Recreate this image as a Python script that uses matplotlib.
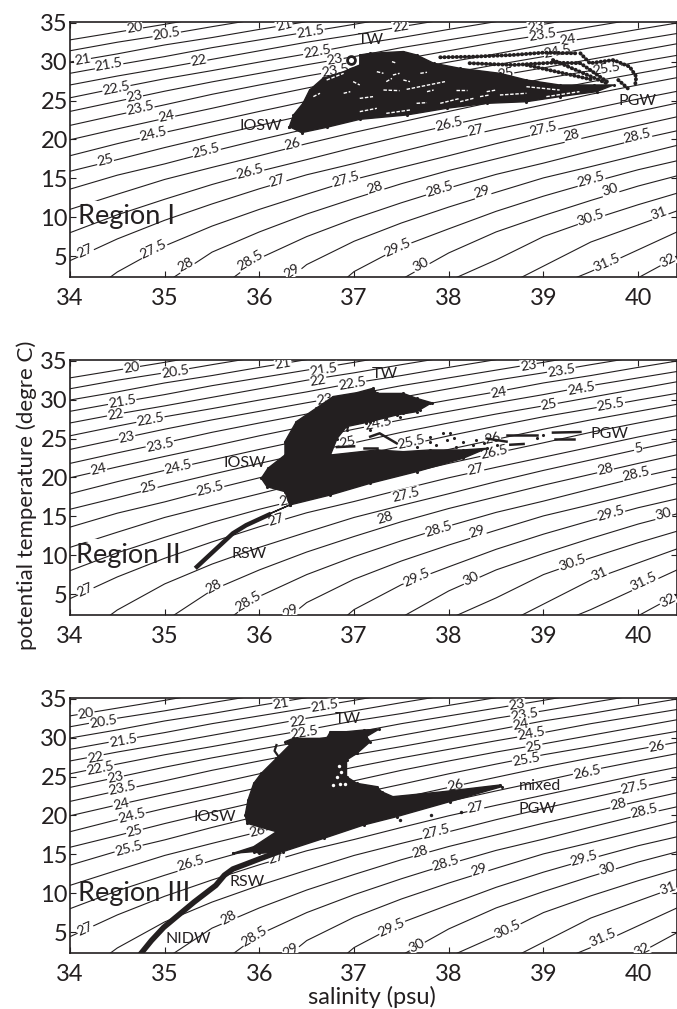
import numpy as np
import matplotlib
matplotlib.use("Agg")
import matplotlib.pyplot as plt

plt.rcParams['font.family'] = ['Lato', 'DejaVu Sans']

INK = '#231f20'
nan = float('nan')

# ISOPYCNALS (theta read at each salinity, same for all 3 panels)
sal_grid = [34, 34.5, 35, 35.5, 36, 36.5, 37, 37.5, 38, 38.5, 39, 39.5, 40, 40.5]
levels = [20, 20.5, 21, 21.5, 22, 22.5, 23, 23.5, 24, 24.5, 25, 25.5, 26, 26.5,
          27, 27.5, 28, 28.5, 29, 29.5, 30, 30.5, 31, 31.5, 32]
theta_200 = [32.8, 33.8, 34.8, 35.85, nan, nan, nan, nan, nan, nan, nan, nan, nan, nan]
theta_205 = [31.4, 32.5, 33.45, 34.5, 35.5, nan, nan, nan, nan, nan, nan, nan, nan, nan]
theta_210 = [29.95, 31.0, 32.15, 33.1, 34.15, 35.15, nan, nan, nan, nan, nan, nan, nan, nan]
theta_215 = [28.5, 29.6, 30.65, 31.8, 32.8, 33.8, 34.8, 35.85, nan, nan, nan, nan, nan, nan]
theta_220 = [27.0, 28.15, 29.2, 30.3, 31.4, 32.5, 33.45, 34.5, 35.5, nan, nan, nan, nan, nan]
theta_225 = [25.35, 26.6, 27.8, 28.85, 29.95, 31.0, 32.15, 33.1, 34.15, 35.15, nan, nan, nan, nan]
theta_230 = [23.6, 24.9, 26.2, 27.4, 28.5, 29.6, 30.65, 31.8, 32.8, 33.8, 34.8, 35.85, nan, nan]
theta_235 = [21.8, 23.15, 24.45, 25.8, 27.0, 28.15, 29.2, 30.3, 31.4, 32.5, 33.45, 34.5, 35.5, nan]
theta_240 = [19.95, 21.35, 22.7, 24.0, 25.35, 26.6, 27.8, 28.85, 29.95, 31.0, 32.15, 33.1, 34.15, 35.15]
theta_245 = [17.9, 19.45, 20.9, 22.25, 23.6, 24.9, 26.2, 27.4, 28.5, 29.6, 30.65, 31.8, 32.8, 33.8]
theta_250 = [15.9, 17.4, 18.95, 20.4, 21.8, 23.15, 24.45, 25.8, 27.0, 28.15, 29.2, 30.3, 31.4, 32.5]
theta_255 = [13.6, 15.4, 16.85, 18.45, 19.95, 21.35, 22.7, 24.0, 25.35, 26.6, 27.8, 28.85, 29.95, 31.0]
theta_260 = [11.0, 12.95, 14.85, 16.4, 17.9, 19.45, 20.9, 22.25, 23.6, 24.9, 26.2, 27.4, 28.5, 29.6]
theta_265 = [8.0, 10.3, 12.3, 14.2, 15.9, 17.4, 18.95, 20.4, 21.8, 23.15, 24.45, 25.8, 27.0, 28.15]
theta_270 = [4.4, 7.2, 9.6, 11.7, 13.65, 15.45, 16.9, 18.45, 19.95, 21.3, 22.6, 23.9, 25.2, 26.4]
theta_275 = [-1.5, 2.95, 6.3, 8.85, 11.0, 12.95, 14.85, 16.4, 17.9, 19.45, 20.9, 22.25, 23.6, 24.9]
theta_280 = [nan, -1.0, 1.5, 5.5, 8.1, 10.4, 12.4, 14.3, 16.0, 17.5, 19.0, 20.4, 21.8, 23.15]
theta_285 = [nan, nan, -1.5, 0.2, 4.7, 7.5, 9.8, 11.85, 13.75, 15.5, 16.95, 18.5, 20.0, 21.35]
theta_290 = [nan, nan, nan, -3.0, -1.0, 3.9, 6.9, 9.25, 11.3, 13.2, 15.05, 16.5, 18.0, 19.5]
theta_295 = [nan, nan, nan, nan, -4.0, -2.2, 3.0, 6.2, 8.5, 10.75, 12.7, 14.45, 16.1, 17.5]
theta_300 = [nan, nan, nan, nan, nan, -4.0, -1.0, 2.0, 5.4, 8.1, 10.2, 12.15, 14.0, 15.6]
theta_305 = [nan, nan, nan, nan, nan, nan, -4.0, -2.0, 1.8, 4.5, 7.5, 9.65, 11.6, 13.4]
theta_310 = [nan, nan, nan, nan, nan, nan, nan, -4.0, -2.0, 0.6, 3.7, 6.8, 9.0, 11.2]
theta_315 = [nan, nan, nan, nan, nan, nan, nan, nan, -4.0, -2.0, 0.5, 3.0, 5.8, 8.6]
theta_320 = [nan, nan, nan, nan, nan, nan, nan, nan, nan, -4.0, -2.0, -0.5, 2.2, 5.5]
all_theta = [theta_200, theta_205, theta_210, theta_215, theta_220, theta_225, theta_230,
             theta_235, theta_240, theta_245, theta_250, theta_255, theta_260, theta_265,
             theta_270, theta_275, theta_280, theta_285, theta_290, theta_295, theta_300,
             theta_305, theta_310, theta_315, theta_320]

# REGION I - cloud outline and the loose tracks on its right
blob1_s = [36.316, 36.446, 36.71, 37.06, 37.555, 37.977, 38.4, 38.82, 39.17, 39.56, 39.74, 39.53,
           39.17, 38.82, 38.54, 38.12, 37.84, 37.66, 37.52, 37.17, 37.06, 37.06, 36.89, 36.67,
           36.53, 36.46, 36.36, 36.316]
blob1_t = [21.64, 20.87, 21.55, 22.58, 23.14, 24.0, 24.64, 24.85, 25.5, 26.14, 27.0, 27.0,
           27.0, 27.64, 28.5, 29.14, 29.8, 30.86, 31.3, 31.07, 30.86, 29.57, 28.71, 27.85,
           26.35, 24.64, 23.14, 21.64]
track1a_s = [37.91, 38.26, 38.68, 39.0, 39.35]
track1a_t = [30.56, 30.64, 30.86, 31.16, 31.07]
track1b_s = [38.22, 38.68, 39.1, 39.39, 39.67]
track1b_t = [29.8, 29.57, 29.87, 29.8, 27.43]
track1c_s = [38.82, 39.53]
track1c_t = [29.57, 27.64]
track1d_s = [39.1, 39.67]
track1d_t = [30.21, 27.2]
track1e_s = [39.39, 39.49, 39.74, 39.91, 39.98, 39.97]
track1e_t = [31.07, 29.8, 30.21, 29.35, 28.07, 27.2]
track1f_s = [39.79, 39.91]
track1f_t = [27.64, 26.35]
ring1_s = [36.97]
ring1_t = [30.21]
# white gaps inside the cloud, start and end of each
gap1_s0 = [37.555, 37.77, 37.31, 36.99, 37.4, 37.24, 37.41, 37.7, 36.57, 36.71, 37.91, 38.12, 38.4,
           38.54, 39.03, 37.06, 37.34, 37.06, 37.66, 36.89, 38.08, 38.33, 38.82, 37.52, 37.34]
gap1_t0 = [26.44, 26.14, 26.35, 27.43, 30.0, 28.71, 28.28, 28.5, 25.5, 27.64, 24.64, 24.85, 26.14,
           25.71, 25.5, 23.57, 23.35, 25.28, 24.64, 25.93, 26.35, 25.5, 26.78, 27.64, 27.43]
gap1_s1 = [37.96, 37.84, 37.48, 37.06, 37.45, 37.31, 37.48, 37.77, 36.64, 36.89, 38.12, 38.26, 38.5,
           38.82, 39.38, 37.24, 37.59, 37.2, 37.77, 36.96, 38.19, 38.43, 39.17, 37.59, 37.4]
gap1_t1 = [27.43, 26.35, 26.27, 27.0, 29.8, 28.5, 28.5, 28.63, 25.93, 28.5, 25.28, 25.28, 26.35,
           25.93, 26.14, 24.0, 23.78, 25.5, 24.73, 26.14, 26.35, 25.71, 26.35, 27.43, 27.85]

# REGION II
blob2_s = [36.08, 36.32, 36.75, 37.17, 37.66, 38.15, 38.4, 38.15, 37.8, 37.52, 37.24, 36.75, 36.82,
           36.92, 37.17, 37.45, 37.66, 37.82, 37.66, 37.52, 37.24, 37.2, 37.03, 36.78, 36.6, 36.39,
           36.27, 36.27, 36.09, 36.02, 36.08, 36.27, 36.32]
blob2_t = [15.17, 16.45, 17.74, 19.24, 20.74, 22.45, 23.74, 23.53, 23.53, 23.31, 23.53, 22.88, 25.0,
           26.53, 27.17, 28.03, 28.46, 29.6, 30.17, 30.8, 30.8, 31.46, 30.9, 30.4, 28.9, 27.17,
           24.6, 22.88, 21.17, 19.88, 18.8, 18.17, 16.45]
tail2_s = [35.34, 35.72, 35.86, 36.1]
tail2_t = [8.5, 12.8, 13.85, 15.2]
dots2_s = [37.13, 37.2, 37.34, 37.49, 37.52, 37.63, 37.7, 37.8, 37.59, 37.45, 37.17, 36.92, 37.8, 37.94,
           38.01, 37.98, 38.05, 38.15, 38.29, 37.8, 37.66, 37.87, 38.08, 38.26, 38.37, 38.51, 38.93, 39.0]
dots2_t = [26.96, 27.39, 27.6, 27.81, 28.24, 28.67, 28.67, 29.53, 29.1, 28.24, 26.1, 26.1, 25.24, 25.67,
           25.76, 24.81, 25.03, 24.6, 24.81, 24.6, 23.96, 24.17, 23.96, 24.17, 24.38, 24.17, 25.03, 25.46]
track2a_s = [39.1, 39.39]
track2a_t = [25.76, 25.84]
track2b_s = [39.12, 39.32]
track2b_t = [25.0, 25.0]
track2c_s = [38.61, 38.93]
track2c_t = [25.45, 25.45]
track2d_s = [38.65, 38.79]
track2d_t = [24.2, 24.3]
track2e_s = [38.4, 38.61]
track2e_t = [25.0, 24.6]
track2f_s = [37.17, 37.27, 37.45]
track2f_t = [25.24, 25.67, 24.38]
track2g_s = [37.1, 37.24]
track2g_t = [23.74, 23.74]
track2h_s = [36.82, 37.0]
track2h_t = [23.9, 24.0]

# REGION III
blob3_s = [35.72, 35.94, 36.18, 35.87, 35.85, 35.88, 35.94, 36.02, 36.18, 36.32, 36.27, 36.36, 36.71,
           36.75, 36.92, 37.1, 37.26, 37.13, 37.17, 37.03, 36.92, 36.92, 37.03, 37.24, 37.29, 37.41,
           37.94, 38.54, 38.56, 38.01, 37.45, 37.1, 36.68, 36.25, 36.0, 35.94, 35.72]
blob3_t = [15.12, 15.98, 17.9, 18.98, 20.05, 21.98, 24.12, 25.41, 27.34, 29.05, 29.48, 29.91, 29.91,
           30.77, 30.77, 30.98, 31.07, 30.13, 29.48, 27.98, 27.12, 24.98, 24.12, 23.7, 23.05, 22.41,
           23.05, 23.91, 23.7, 21.77, 19.84, 18.76, 17.05, 15.34, 15.12, 15.34, 15.12]
tail3_s = [34.74, 34.86, 34.99, 35.31, 35.54, 35.63, 35.72, 35.85, 36.0, 36.2]
tail3_t = [2.1, 3.9, 5.6, 8.85, 11.0, 12.3, 13.1, 13.7, 14.4, 15.3]
hook3_s = [36.18, 36.16, 36.2]
hook3_t = [29.05, 28.3, 27.6]
dots3_s = [37.48, 37.81, 38.13]
dots3_t = [19.4, 20.0, 20.4]
holes3_s = [36.78, 36.9, 36.85, 36.84, 36.86, 36.82]
holes3_t = [23.9, 24.1, 24.0, 26.3, 25.6, 25.0]

# CONTOUR LABELS (text, salinity, theta)
labels_1 = [('20', 34.68, 34.3), ('20.5', 35.02, 33.6), ('21', 36.26, 34.7), ('21.5', 36.54, 33.8),
            ('22', 37.49, 34.5), ('23', 38.92, 34.5), ('23.5', 38.99, 33.4), ('24', 39.26, 32.8),
            ('21', 34.13, 30.3), ('21.5', 34.41, 29.6), ('22', 35.36, 30.1), ('22.5', 36.61, 31.3),
            ('23', 36.8, 30.2), ('23.5', 36.8, 28.9), ('24.5', 39.15, 31.3), ('25', 38.6, 28.5),
            ('25.5', 39.67, 29.1), ('22.5', 34.49, 26.6), ('23', 34.68, 25.5), ('23.5', 34.74, 24.0),
            ('24', 35.02, 22.9), ('24.5', 34.88, 20.7), ('25', 34.37, 17.3), ('25.5', 35.44, 18.5),
            ('26', 36.35, 19.4), ('26.5', 38.0, 22.0), ('27', 38.28, 21.2), ('27.5', 39.0, 21.3),
            ('28', 39.3, 20.5), ('28.5', 39.99, 20.5), ('26.5', 35.9, 15.8), ('27', 36.19, 14.7),
            ('27.5', 36.91, 14.8), ('28', 37.22, 13.8), ('28.5', 37.9, 13.6), ('29', 38.35, 13.2),
            ('29.5', 39.5, 14.8), ('30', 39.7, 13.5), ('30.5', 39.5, 9.9), ('31', 40.22, 10.5),
            ('27', 34.16, 5.6), ('27.5', 34.88, 5.9), ('28', 35.22, 3.9), ('28.5', 35.9, 4.4),
            ('29', 36.35, 3.1), ('29.5', 37.46, 6.1), ('30', 37.7, 3.9), ('31.5', 39.67, 4.1),
            ('32', 40.31, 4.4)]
labels_2 = [('20', 34.65, 34.1), ('20.5', 35.11, 33.6), ('21', 36.25, 34.6), ('21.5', 36.68, 33.9),
            ('22', 36.62, 32.5), ('22.5', 36.98, 32.0), ('23', 38.84, 34.4), ('23.5', 39.19, 33.7),
            ('24', 38.53, 30.9), ('24.5', 39.4, 31.4), ('23', 36.69, 30.0), ('25', 39.06, 29.4),
            ('25.5', 39.71, 29.4), ('21.5', 34.55, 29.8), ('22', 34.48, 28.1), ('22.5', 34.85, 27.4),
            ('23', 34.6, 25.2), ('23.5', 34.95, 24.2), ('24', 34.3, 21.0), ('24.5', 35.14, 21.4),
            ('25', 34.83, 18.8), ('25.5', 35.48, 18.5), ('26', 36.29, 17.1), ('24.5', 37.25, 27.0),
            ('25', 36.93, 24.5), ('25.5', 37.6, 24.5), ('26', 38.46, 25.0), ('26.5', 38.48, 23.2),
            ('5', 40.0, 23.8), ('27', 36.18, 14.5), ('27', 38.28, 21.0), ('28', 39.65, 21.1),
            ('28.5', 39.98, 20.4), ('27.5', 37.55, 17.8), ('28', 37.33, 14.8), ('28.5', 37.89, 13.4),
            ('29', 38.3, 13.0), ('29.5', 39.71, 15.4), ('30', 40.26, 15.3), ('30.5', 39.3, 9.0),
            ('31', 39.59, 7.6), ('31.5', 40.06, 6.6), ('32', 40.31, 4.2), ('27', 34.16, 5.5),
            ('28', 35.52, 6.0), ('28.5', 35.88, 4.1), ('29', 36.33, 2.8), ('29.5', 37.66, 7.1),
            ('30', 38.23, 7.0)]
labels_3 = [('20', 34.17, 33.1), ('20.5', 34.35, 32.1), ('21', 36.23, 34.4), ('21.5', 36.69, 34.1),
            ('22', 36.4, 32.1), ('22.5', 36.48, 30.6), ('21.5', 34.56, 29.6), ('22', 34.27, 27.4),
            ('22.5', 34.32, 26.1), ('23', 34.48, 24.9), ('23.5', 34.55, 23.5), ('24', 34.54, 21.4),
            ('24.5', 34.65, 20.0), ('25', 34.68, 18.0), ('25.5', 34.62, 15.7), ('26.5', 35.27, 13.8),
            ('23', 38.72, 34.2), ('23.5', 38.8, 33.0), ('24', 38.76, 31.7), ('24.5', 38.87, 30.5),
            ('25', 38.9, 28.9), ('25.5', 38.82, 27.2), ('26', 40.2, 28.8), ('26.5', 39.46, 25.6),
            ('26', 38.07, 23.8), ('27', 38.28, 21.0), ('27.5', 39.96, 23.7), ('28', 39.79, 21.4),
            ('28.5', 40.06, 20.6), ('27.5', 37.86, 17.9), ('28', 37.7, 15.3), ('28.5', 37.97, 13.8),
            ('29', 38.32, 13.0), ('29.5', 39.43, 14.5), ('30', 39.67, 13.1), ('31', 40.31, 10.6),
            ('30.5', 38.62, 5.3), ('31.5', 39.62, 4.3), ('32', 40.04, 2.7), ('29.5', 37.4, 5.6),
            ('30', 37.66, 3.3), ('29', 36.33, 2.7), ('28.5', 35.95, 4.4), ('28', 35.67, 6.8),
            ('27', 34.16, 5.4), ('26', 35.98, 18.0), ('27', 36.18, 14.6)]

# WATER MASS NAMES
names_1 = [('TW', 37.18, 32.8), ('IOSW', 36.02, 21.75), ('PGW', 39.99, 24.9)]
names_2 = [('TW', 37.32, 33.3), ('IOSW', 35.85, 21.8), ('PGW', 39.7, 25.6), ('RSW', 35.89, 10.1)]
names_3 = [('TW', 36.93, 32.4), ('IOSW', 35.53, 19.8), ('mixed', 38.96, 23.8), ('PGW', 38.94, 20.8),
           ('RSW', 35.87, 11.4), ('NIDW', 35.25, 4.1)]
x_ticks = [34, 35, 36, 37, 38, 39, 40]
y_ticks = [5, 10, 15, 20, 25, 30, 35]

XLIM = (34, 40.41)
YLIM = (2.3, 35.1)
PX_S = 607 / (XLIM[1] - XLIM[0])
PX_T = 255 / (YLIM[1] - YLIM[0])


def label_angle(text, s):
    # rotate the label along its own isopycnal
    try:
        row = all_theta[levels.index(float(text))]
    except ValueError:
        return 12
    slope = np.gradient(row, sal_grid)
    k = np.nanargmin(np.abs(np.array(sal_grid) - s))
    g = slope[k]
    if np.isnan(g):
        g = 3
    return np.degrees(np.arctan2(g * PX_T, PX_S))


def setup_panel(top_px, bottom_px, labels, names, region, region_s, region_t, gap=True):
    ax = fig.add_axes([70 / W, 1 - bottom_px / H, 607 / W, (bottom_px - top_px) / H])
    for row in all_theta:
        ax.plot(sal_grid, row, color=INK, lw=0.8, zorder=2)
    if gap:
        # erased stretch of the 26 line left of the region name
        ax.plot([34.17, 34.36], [12.0, 11.7], color='white', lw=3, zorder=2.5)
    for text, s, t in labels:
        ax.text(s, t, text, fontsize=10.2, color=INK, ha='center', va='center', rotation_mode='anchor',
                rotation=label_angle(text, s), zorder=3, clip_on=True,
                bbox=dict(fc='white', ec='none', pad=0.3))
    for text, s, t in names:
        ax.text(s, t, text, fontsize=11.5, color=INK, ha='center', va='center', zorder=6)
    ax.text(region_s, region_t, region, fontsize=19.5, color=INK, ha='center', va='center', zorder=6)
    ax.set_xlim(*XLIM)
    ax.set_ylim(*YLIM)
    ax.set_xticks(x_ticks)
    ax.set_yticks(y_ticks)
    ax.tick_params(direction='in', length=4, width=0.8, top=True, right=True, labelsize=17, colors=INK)
    ax.tick_params(axis='x', pad=8)
    ax.tick_params(axis='y', pad=1.5)
    for sp in ax.spines.values():
        sp.set_linewidth(1.2)
        sp.set_color(INK)
    return ax


def draw_cloud(ax, s, t):
    # filled body plus dots on its edge so the outline stays rough
    ax.fill(s, t, color=INK, zorder=4, lw=1)
    ax.scatter(s, t, s=5, color=INK, lw=0, zorder=4)


W, H = 677, 1009
fig = plt.figure(figsize=(W / 100, H / 100), dpi=100)

ax1 = setup_panel(22, 277, labels_1, names_1, 'Region I', 34.6, 10.1)
draw_cloud(ax1, blob1_s, blob1_t)
for s, t in [(track1a_s, track1a_t), (track1b_s, track1b_t), (track1c_s, track1c_t),
             (track1d_s, track1d_t), (track1e_s, track1e_t), (track1f_s, track1f_t)]:
    # beaded stroke, the tracks are really strings of dots
    ax1.plot(s, t, color=INK, lw=2.8, zorder=4, ls=(0, (0.1, 0.95)), dash_capstyle='round')
for s0, t0, s1, t1 in zip(gap1_s0, gap1_t0, gap1_s1, gap1_t1):
    ax1.plot([s0, s1], [t0, t1], color='white', lw=1.0, zorder=5, ls=(0, (2.5, 1.2)))
ax1.scatter(ring1_s, ring1_t, s=32, facecolor='white', edgecolor=INK, lw=2, zorder=5)

ax2 = setup_panel(360, 615, labels_2, names_2, 'Region II', 34.62, 9.9)
draw_cloud(ax2, blob2_s, blob2_t)
ax2.plot(tail2_s, tail2_t, color=INK, lw=3.2, zorder=4)
ax2.scatter(dots2_s, dots2_t, s=5, color=INK, lw=0, zorder=4)
for s, t in [(track2a_s, track2a_t), (track2b_s, track2b_t), (track2c_s, track2c_t),
             (track2d_s, track2d_t), (track2e_s, track2e_t), (track2f_s, track2f_t),
             (track2g_s, track2g_t), (track2h_s, track2h_t)]:
    ax2.plot(s, t, color=INK, lw=1.8, zorder=4)

ax3 = setup_panel(698, 953, labels_3, names_3, 'Region III', 34.68, 9.9, gap=False)
draw_cloud(ax3, blob3_s, blob3_t)
ax3.plot(tail3_s, tail3_t, color=INK, lw=4, zorder=4, solid_joinstyle='round')
ax3.plot(hook3_s, hook3_t, color=INK, lw=1.6, zorder=4)
ax3.scatter(dots3_s, dots3_t, s=6, color=INK, lw=0, zorder=4)
ax3.scatter(holes3_s, holes3_t, s=6, color='white', lw=0, zorder=5)

fig.text(27 / W, 1 - 495 / H, 'potential temperature (degre C)', rotation=90, fontsize=16,
         color=INK, ha='center', va='center')
fig.text(372 / W, 1 - 997 / H, 'salinity (psu)', fontsize=17, color=INK, ha='center', va='center')

fig.savefig('out.png', dpi=100)
